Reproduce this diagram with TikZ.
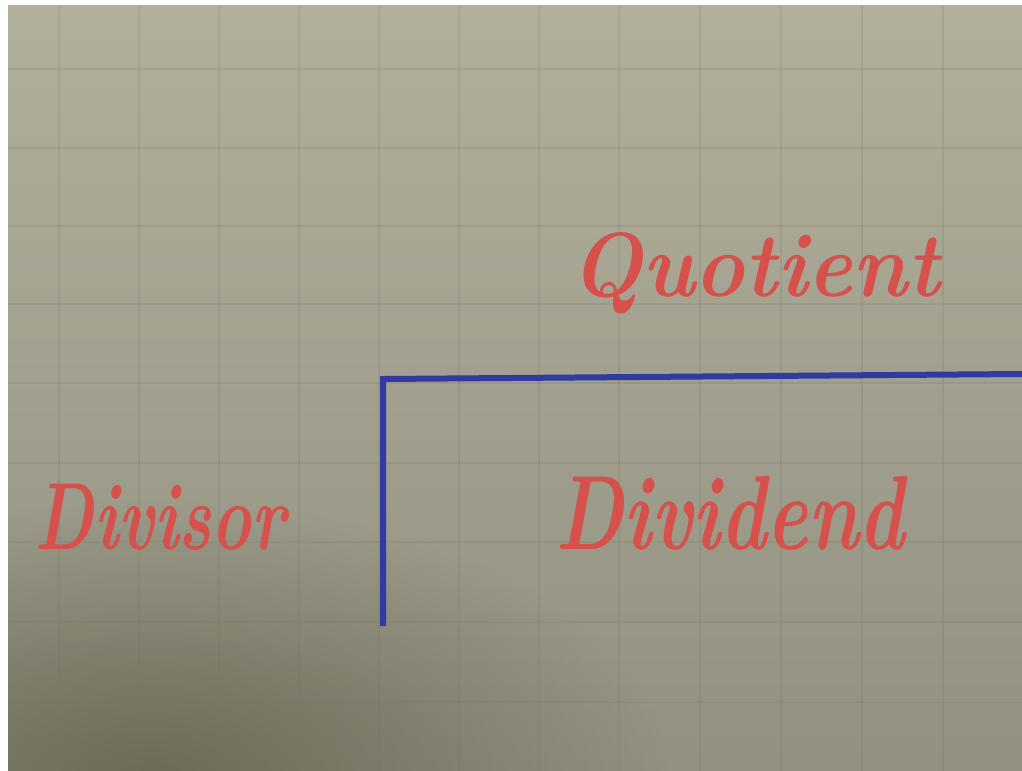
\documentclass[tikz,border=0pt]{standalone}
\usepackage{graphicx}
\usetikzlibrary{fadings}
\definecolor{papertop}{RGB}{178,175,156}
\definecolor{paperbot}{RGB}{146,144,128}
\definecolor{paperdark}{RGB}{92,92,70}
\definecolor{gridline}{RGB}{120,118,100}
\definecolor{ink}{RGB}{214,80,76}
\definecolor{bluepen}{RGB}{48,58,160}
\tikzfading[name=softspot, inner color=transparent!0, outer color=transparent!100]
\tikzset{
  gridl/.style={draw=gridline, line width=1.1pt, opacity=0.2},
  inktext/.style={text=ink, inner sep=0pt, font=\bfseries\itshape},
  penline/.style={draw=bluepen, line width=4.5pt, line cap=butt, line join=miter},
}
\begin{document}
\begin{tikzpicture}[x=0.75pt,y=-0.75pt]
\useasboundingbox (0,0) rectangle (1022,771);
\fill[white] (0,0) rectangle (1022,771);
% paper
\shade[top color=papertop, bottom color=paperbot] (8,5) rectangle (1022,771);
\begin{scope}
\clip (8,5) rectangle (1022,771);
\fill[paperdark, opacity=0.7, path fading=softspot] (150,780) ellipse (520 and 280);
\end{scope}
% grid
\foreach \gx in {59,139,219,299,379,459,539,619,700,781,862,943}
  \draw[gridl] (\gx,5) -- (\gx,771);
\foreach \gy in {69,148,226,304,383,463,542,622,702}
  \draw[gridl] (8,\gy) -- (1022,\gy);
% texts (baseline anchored)
\node[inktext, anchor=base] (quot) at (755,296) {\resizebox{277pt}{48pt}{Quotient}};
\node[inktext, anchor=base] (divs) at (160,549) {\resizebox{188pt}{49pt}{Divisor}};
\node[inktext, anchor=base] (divd) at (730,549) {\resizebox{262pt}{55pt}{Dividend}};
% bracket
\coordinate (top r) at (1022,374);
\coordinate (corner) at (383,379);
\coordinate (bot) at (383,626);
\draw[penline] (top r) -- (corner) -- (bot);
\end{tikzpicture}
\end{document}
